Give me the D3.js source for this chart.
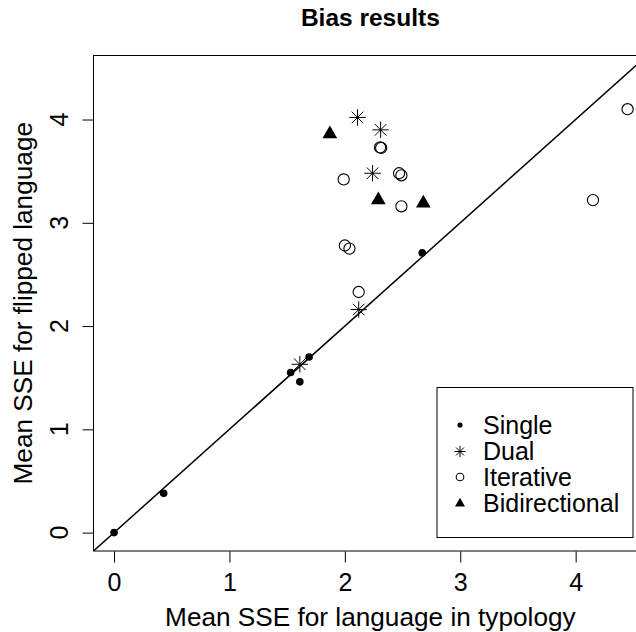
<!DOCTYPE html>
<html>
<head>
<meta charset="utf-8">
<script src="https://cdn.jsdelivr.net/npm/d3@7"></script>
<style>
  html, body { margin: 0; padding: 0; background: #fff; }
  svg { display: block; }
  text { font-family: "Liberation Sans", Arial, Helvetica, sans-serif; fill: #000; }
</style>
</head>
<body>
<svg id="chart" width="636" height="632"></svg>
<script>
// ---- data ----
const titleText = "Bias results";
const xLabel = "Mean SSE for language in typology";
const yLabel = "Mean SSE for flipped language";
const tickValues = [0, 1, 2, 3, 4];

const singleX = [0, 0.43, 1.53, 1.61, 1.69, 2.67];
const singleY = [0, 0.38, 1.55, 1.46, 1.70, 2.71];

const dualX = [2.11, 2.31, 2.24, 2.12, 1.61];
const dualY = [4.02, 3.90, 3.48, 2.16, 1.63];

const iterX = [2.305, 2.315, 1.99, 2.47, 2.49, 2.49, 2.00, 2.04, 2.12, 4.45, 4.15];
const iterY = [3.73, 3.725, 3.42, 3.48, 3.46, 3.16, 2.78, 2.75, 2.33, 4.10, 3.22];

const biX = [1.87, 2.29, 2.68];
const biY = [3.86, 3.22, 3.19];

const legendLabels = ["Single", "Dual", "Iterative", "Bidirectional"];
const legendShapes = ["dot", "star", "circle", "triangle"];

// ---- layout ----
const svg = d3.select("#chart");
const pLeft = 93.5, pRight = 647.2, pTop = 55.5, pBottom = 551;
const domain = [-0.178, 4.62];
const x = d3.scaleLinear().domain(domain).range([pLeft, pRight]);
const y = d3.scaleLinear().domain(domain).range([pBottom, pTop]);

svg.append("defs").append("clipPath").attr("id", "clip")
  .append("rect").attr("x", pLeft).attr("y", pTop)
  .attr("width", pRight - pLeft).attr("height", pBottom - pTop);

// title
svg.append("text").attr("x", (pLeft + pRight) / 2).attr("y", 25.5)
  .attr("text-anchor", "middle").attr("font-weight", "bold")
  .attr("font-size", 24.5).text(titleText);

// box
svg.append("rect").attr("x", pLeft).attr("y", pTop)
  .attr("width", pRight - pLeft).attr("height", pBottom - pTop)
  .attr("fill", "none").attr("stroke", "#000").attr("stroke-width", 1);

// x axis
const xAxis = svg.append("g").attr("transform", `translate(0,${pBottom + 0.5})`)
  .call(d3.axisBottom(x).tickValues(tickValues).tickSize(11).tickFormat(d3.format("d")));
xAxis.select(".domain").remove();
xAxis.selectAll("text").attr("font-size", 25).attr("dy", null).attr("y", 39)
  .attr("font-family", "Liberation Sans, Arial, sans-serif").attr("fill", "#000");
xAxis.selectAll("line").attr("stroke", "#000");

// y axis
const yAxis = svg.append("g").attr("transform", `translate(${pLeft},0)`)
  .call(d3.axisLeft(y).tickValues(tickValues).tickSize(11).tickFormat(d3.format("d")));
yAxis.select(".domain").remove();
yAxis.selectAll("text").remove();
yAxis.selectAll("line").attr("stroke", "#000");
svg.append("g").selectAll("text").data(tickValues).join("text")
  .attr("transform", d => `translate(68,${y(d)}) rotate(-90)`)
  .attr("text-anchor", "middle").attr("font-size", 25).text(d => d);

// axis labels
svg.append("text").attr("x", (pLeft + pRight) / 2).attr("y", 626)
  .attr("text-anchor", "middle").attr("font-size", 26.2).text(xLabel);
svg.append("text").attr("transform", `translate(32,${(pTop + pBottom) / 2}) rotate(-90)`)
  .attr("text-anchor", "middle").attr("font-size", 26.2).text(yLabel);

// diagonal y = x
const plot = svg.append("g").attr("clip-path", "url(#clip)");
plot.append("line")
  .attr("x1", x(domain[0])).attr("y1", y(domain[0]))
  .attr("x2", x(domain[1])).attr("y2", y(domain[1]))
  .attr("stroke", "#000").attr("stroke-width", 1.5);

// symbol drawing
function drawShape(g, shape, cx, cy, s) {
  if (shape === "dot") {
    g.append("circle").attr("cx", cx).attr("cy", cy).attr("r", 3.8 * s).attr("fill", "#000");
  } else if (shape === "circle") {
    g.append("circle").attr("cx", cx).attr("cy", cy).attr("r", 5.6 * s)
      .attr("fill", "none").attr("stroke", "#000").attr("stroke-width", 1.1);
  } else if (shape === "star") {
    const a = 8.2 * s, b = a / Math.SQRT2;
    const p = `M${cx - a},${cy}L${cx + a},${cy}M${cx},${cy - a}L${cx},${cy + a}` +
      `M${cx - b},${cy - b}L${cx + b},${cy + b}M${cx - b},${cy + b}L${cx + b},${cy - b}`;
    g.append("path").attr("d", p).attr("stroke", "#000").attr("stroke-width", 1).attr("fill", "none");
  } else if (shape === "triangle") {
    const r = 8.5 * s, xc = r * Math.sqrt(3) / 2, yc = r / 2;
    g.append("path").attr("d", `M${cx},${cy - r}L${cx + xc},${cy + yc}L${cx - xc},${cy + yc}Z`)
      .attr("fill", "#000");
  }
}

const pts = plot.append("g");
singleX.forEach((v, i) => drawShape(pts, "dot", x(v), y(singleY[i]), 1));
dualX.forEach((v, i) => drawShape(pts, "star", x(v), y(dualY[i]), 1));
iterX.forEach((v, i) => drawShape(pts, "circle", x(v), y(iterY[i]), 1));
biX.forEach((v, i) => drawShape(pts, "triangle", x(v), y(biY[i]), 1));

// legend
const lg = svg.append("g");
lg.append("rect").attr("x", 437).attr("y", 387.5).attr("width", 196).attr("height", 150)
  .attr("fill", "#fff").attr("stroke", "#000").attr("stroke-width", 1);
const rowY = [425, 451.5, 477, 503.5];
legendLabels.forEach((lab, i) => {
  drawShape(lg, legendShapes[i], 460, rowY[i], 0.68);
  lg.append("text").attr("x", 483).attr("y", rowY[i] + 8.5).attr("font-size", 25).text(lab);
});
</script>
</body>
</html>
